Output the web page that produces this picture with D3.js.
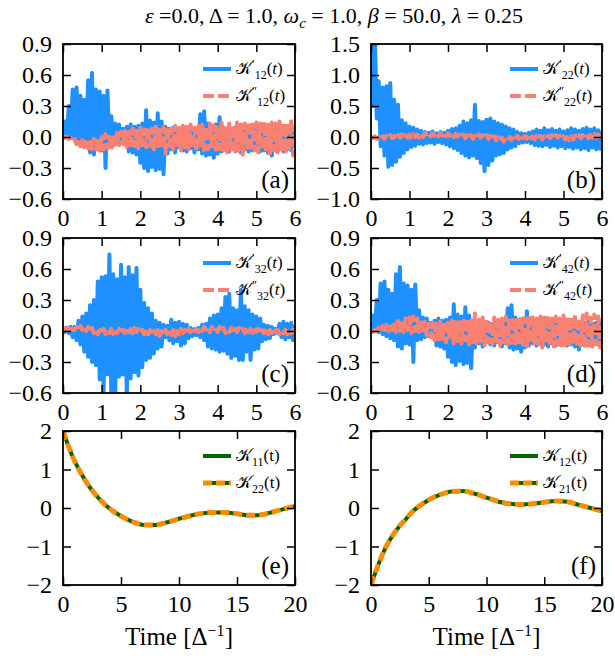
<!DOCTYPE html>
<html>
<head>
<meta charset="utf-8">
<script src="https://cdn.jsdelivr.net/npm/d3@7"></script>
<style>
  body { margin: 0; background: #fff; }
  svg text { font-family: "Liberation Serif"; fill: #000; }
</style>
</head>
<body>
<div id="chart"></div>
<script>
var k12Re = [0.02,0.15,0.01,0.30,-0.01,0.46,-0.03,0.48,-0.05,0.40,-0.07,0.36,-0.09,0.55,-0.15,0.62,-0.17,0.46,-0.12,0.44,
  -0.13,0.40,-0.30,0.45,-0.09,0.20,-0.08,0.13,-0.06,0.12,-0.05,0.08,-0.05,0.10,-0.14,0.12,-0.15,0.10,-0.17,0.11,
  -0.25,0.13,-0.30,0.26,-0.33,0.16,-0.29,0.14,-0.32,0.23,-0.31,0.15,-0.36,0.10,-0.16,0.08,-0.12,0.09,-0.15,0.07,
  -0.10,0.08,-0.13,0.07,-0.14,0.09,-0.11,0.06,-0.15,0.08,-0.12,0.22,-0.16,0.25,-0.18,0.13,-0.17,0.11,-0.20,0.12,
  -0.16,0.19,-0.14,0.09,-0.12,0.08,-0.14,0.07,-0.12,0.09,-0.13,0.06,-0.15,0.08,-0.12,0.09,-0.14,0.07,-0.13,0.08,
  -0.12,0.09,-0.14,0.10,-0.13,0.08,-0.15,0.09,-0.18,0.07,-0.13,0.08,-0.12,0.10,-0.14,0.07,-0.12,0.08,-0.13,0.09,-0.10];
var k12Im = [0.00,-0.01,0.00,-0.02,-0.01,-0.04,-0.02,-0.07,-0.02,-0.09,-0.03,-0.10,-0.02,-0.11,-0.03,-0.12,-0.02,-0.12,-0.01,-0.13,
  0.00,-0.12,0.03,-0.11,0.00,-0.12,0.02,-0.09,0.04,-0.08,0.05,-0.07,0.06,-0.10,0.05,-0.08,0.08,-0.09,0.06,-0.11,
  0.09,-0.08,0.07,-0.10,0.10,-0.09,0.08,-0.12,0.10,-0.09,0.07,-0.11,0.09,-0.16,0.10,-0.09,0.08,-0.12,0.11,-0.10,
  0.09,-0.13,0.11,-0.10,0.10,-0.12,0.12,-0.11,0.09,-0.14,0.11,-0.10,0.12,-0.13,0.10,-0.12,0.13,-0.11,0.11,-0.14,
  0.12,-0.12,0.14,-0.13,0.11,-0.15,0.13,-0.12,0.12,-0.14,0.14,-0.13,0.12,-0.17,0.13,-0.12,0.15,-0.14,0.12,-0.13,
  0.14,-0.15,0.13,-0.12,0.15,-0.14,0.12,-0.16,0.14,-0.13,0.13,-0.15,0.15,-0.12,0.14,-0.16,0.13,-0.14,0.17,-0.18,0.12];

var k22Re = [1.60,0.50,1.60,0.30,0.90,-0.15,0.80,-0.30,0.82,-0.48,0.87,-0.45,0.60,-0.40,0.52,-0.32,0.27,-0.26,0.22,-0.20,
  0.17,-0.16,0.15,-0.14,0.12,-0.11,0.10,-0.12,0.08,-0.10,0.07,-0.09,0.09,-0.11,0.06,-0.08,0.08,-0.10,0.07,-0.12,
  0.10,-0.15,0.13,-0.18,0.14,-0.21,0.18,-0.26,0.25,-0.30,0.22,-0.33,0.27,-0.30,0.52,-0.34,0.26,-0.42,0.24,-0.55,
  0.28,-0.45,0.30,-0.38,0.25,-0.30,0.22,-0.28,0.20,-0.26,0.17,-0.20,0.14,-0.17,0.12,-0.15,0.08,-0.10,0.06,-0.09,
  0.05,-0.08,0.07,-0.10,0.09,-0.13,0.12,-0.14,0.10,-0.15,0.14,-0.13,0.11,-0.16,0.13,-0.14,0.10,-0.17,0.12,-0.15,
  0.09,-0.18,0.11,-0.16,0.14,-0.19,0.12,-0.17,0.10,-0.20,0.13,-0.18,0.15,-0.21,0.12,-0.17,0.14,-0.20,0.11,-0.19,0.10];
var k22Im = [0.00,-0.02,0.01,-0.03,0.00,-0.04,0.01,-0.03,0.02,-0.02,0.03,-0.02,0.02,-0.03,0.03,-0.01,0.04,-0.02,0.03,-0.01,
  0.04,-0.01,0.05,0.00,0.04,-0.01,0.05,0.00,0.06,0.01,0.05,0.01,0.06,0.02,0.07,0.01,0.06,0.02,0.07,0.01,
  0.06,0.02,0.06,0.00,0.05,0.01,0.04,-0.01,0.04,-0.02,0.03,-0.02,0.03,-0.03,0.02,-0.02,0.04,-0.01,0.03,-0.02,
  0.03,-0.03,0.02,-0.04,0.01,-0.05,0.00,-0.06,-0.01,-0.07,-0.02,-0.06,0.00,-0.05,0.01,-0.04,0.02,-0.03,0.03,-0.02,
  0.02,-0.03,0.03,-0.02,0.01,-0.04,0.02,-0.03,0.02,-0.04,0.01,-0.03,0.02,-0.02,0.03,-0.03,0.03,-0.01,0.02,-0.03,
  0.01,-0.04,0.00,-0.05,0.01,-0.04,0.02,-0.03,0.03,-0.02,0.03,-0.01,0.04,-0.02,0.03,-0.01,0.05,-0.01,0.04,0.00,0.05];

var k32Re = [0.02,-0.01,0.03,-0.02,0.04,-0.06,0.04,-0.09,0.10,-0.13,0.14,-0.20,0.17,-0.25,0.25,-0.30,0.30,-0.33,0.48,-0.47,
  0.52,-0.58,0.53,-0.42,0.74,-0.66,0.55,-0.64,0.50,-0.44,0.64,-0.42,0.52,-0.66,0.62,-0.46,0.54,-0.40,0.61,-0.43,
  0.40,-0.35,0.27,-0.28,0.22,-0.26,0.17,-0.22,0.10,-0.17,0.08,-0.15,0.06,-0.06,0.05,-0.09,0.11,-0.12,0.08,-0.10,
  0.09,-0.14,0.07,-0.12,0.06,-0.07,0.03,-0.05,0.02,-0.04,0.03,-0.06,0.06,-0.09,0.07,-0.15,0.12,-0.17,0.15,-0.18,
  0.16,-0.20,0.22,-0.19,0.33,-0.22,0.36,-0.26,0.22,-0.24,0.20,-0.28,0.40,-0.28,0.24,-0.20,0.20,-0.28,0.16,-0.18,
  0.14,-0.17,0.12,-0.10,0.06,-0.08,0.05,-0.07,0.04,-0.03,0.02,-0.02,0.07,-0.06,0.09,-0.08,0.07,-0.06,0.08,-0.09,0.06];
var k32Im = [0.02,0.03,0.00,0.03,-0.01,0.02,0.01,0.04,0.00,0.05,0.01,0.05,0.00,0.04,-0.01,0.03,-0.02,0.02,-0.03,0.01,
  -0.02,0.02,-0.03,0.01,-0.02,0.02,-0.03,0.01,-0.02,0.02,-0.03,0.01,-0.02,0.03,-0.01,0.02,-0.02,0.03,-0.01,0.02,
  -0.02,0.01,-0.03,0.02,-0.03,0.01,-0.04,0.00,-0.03,0.01,-0.05,0.00,-0.04,0.01,-0.03,0.02,-0.04,0.01,-0.05,0.00,
  -0.03,0.02,-0.02,0.01,-0.03,0.02,-0.01,0.03,0.00,0.02,-0.01,0.03,0.00,0.04,0.01,0.03,-0.01,0.04,0.00,0.03,
  -0.01,0.04,0.00,0.03,-0.02,0.02,-0.01,0.03,-0.02,0.02,-0.01,0.03,0.00,0.02,-0.02,0.03,-0.01,0.02,-0.02,0.03,
  -0.01,0.02,-0.03,0.01,-0.02,0.02,-0.03,0.01,-0.02,0.02,-0.01,0.01,-0.03,0.00,-0.02,0.01,-0.03,0.00,-0.02,0.01,-0.02];

// K'42 looks the same as K'12 in the figure
var k42Re = k12Re.slice();
var k42Im = [0.00,-0.01,0.01,0.00,0.03,0.00,0.05,0.01,0.06,0.00,0.07,0.01,0.09,-0.01,0.10,0.00,0.11,-0.01,0.12,0.01,
  0.13,-0.02,0.14,0.00,0.12,-0.01,0.11,-0.03,0.09,-0.04,0.07,-0.06,0.08,-0.09,0.07,-0.10,0.09,-0.08,0.06,-0.11,
  0.08,-0.09,0.10,-0.12,0.09,-0.10,0.11,-0.12,0.10,-0.09,0.12,-0.13,0.10,-0.11,0.17,-0.12,0.11,-0.10,0.13,-0.14,
  0.12,-0.11,0.10,-0.13,0.13,-0.12,0.11,-0.14,0.12,-0.11,0.14,-0.13,0.12,-0.15,0.13,-0.12,0.11,-0.14,0.14,-0.13,
  0.12,-0.15,0.13,-0.12,0.15,-0.14,0.12,-0.13,0.14,-0.16,0.13,-0.12,0.15,-0.14,0.12,-0.15,0.14,-0.13,0.12,-0.16,
  0.15,-0.14,0.13,-0.15,0.14,-0.13,0.16,-0.15,0.13,-0.14,0.15,-0.17,0.17,-0.14,0.13,-0.15,0.16,-0.13,0.14,-0.16,0.12];

// bottom row, t over 0..20
var tLong = [0,0.5,1,1.5,2,2.5,3,3.5,4,5,6,7,8,9,10,11,12,13,14,15,16,17,18,19,20];
var k11 = [2.0,1.58,1.22,0.93,0.68,0.46,0.28,0.12,-0.01,-0.21,-0.36,-0.44,-0.44,-0.37,-0.28,-0.20,-0.14,-0.12,-0.12,-0.15,-0.19,-0.18,-0.11,-0.03,0.05];
var k22 = k11.slice();
var k12 = [-2.0,-1.58,-1.20,-0.90,-0.66,-0.46,-0.30,-0.12,0.01,0.21,0.35,0.43,0.44,0.37,0.27,0.17,0.11,0.09,0.11,0.15,0.18,0.16,0.08,0.00,-0.08];
var k21 = k12.slice();

var ticksShort = [0, 0.3, 0.6, 0.9, -0.3, -0.6];
var ticksB = [-1.0, -0.5, 0, 0.5, 1.0, 1.5];
var ticksLong = [-2, -1, 0, 1, 2];

// ---- layout ----
var width = 615, height = 660;
var cols = [[63, 295], [371, 602]];
var rows = [[44, 199], [238, 393], [431, 585]];
var serif = '"Liberation Serif"';

var blue = '#1e90ff', salmon = '#fa8072', green = '#006400', orange = '#ff8c00';

var panels = [
  { tag: 'a', c: 0, r: 0, ydom: [-0.6, 0.9], yt: ticksShort, fmt: '.1f', re: k12Re, im: k12Im, idx: '12' },
  { tag: 'b', c: 1, r: 0, ydom: [-1.0, 1.5], yt: ticksB, fmt: '.1f', re: k22Re, im: k22Im, idx: '22' },
  { tag: 'c', c: 0, r: 1, ydom: [-0.6, 0.9], yt: ticksShort, fmt: '.1f', re: k32Re, im: k32Im, idx: '32' },
  { tag: 'd', c: 1, r: 1, ydom: [-0.6, 0.9], yt: ticksShort, fmt: '.1f', re: k42Re, im: k42Im, idx: '42' },
  { tag: 'e', c: 0, r: 2, ydom: [-2, 2], yt: ticksLong, fmt: '.0f', s1: k11, s2: k22, n1: '11', n2: '22' },
  { tag: 'f', c: 1, r: 2, ydom: [-2, 2], yt: ticksLong, fmt: '.0f', s1: k12, s2: k21, n1: '12', n2: '21' }
];

var svg = d3.select('#chart').append('svg')
  .attr('width', width)
  .attr('height', height);

var defs = svg.append('defs');

// title
var title = svg.append('text')
  .attr('x', 334).attr('y', 23)
  .attr('text-anchor', 'middle')
  .style('font-size', '22px');
title.append('tspan').style('font-style', 'italic').text('ε');
title.append('tspan').text(' =0.0, Δ = 1.0, ');
title.append('tspan').style('font-style', 'italic').text('ω');
title.append('tspan').style('font-style', 'italic').style('font-size', '15px').attr('dy', 5).text('c');
title.append('tspan').attr('dy', -5).text(' = 1.0, ');
title.append('tspan').style('font-style', 'italic').text('β');
title.append('tspan').text(' = 50.0, ');
title.append('tspan').style('font-style', 'italic').text('λ');
title.append('tspan').text(' = 0.25');

// legend label: script K, optional primes, subscript index, then (t)
function legendLabel(g, x, y, idx, primes, italicT) {
  var t = g.append('text').attr('x', x).attr('y', y).style('font-size', '17px');
  t.append('tspan').text('𝒦');
  if (primes) {
    t.append('tspan').attr('dy', -6).style('font-size', '12px').text(primes);
    t.append('tspan').attr('dy', 11).style('font-size', '12px').text(idx);
  } else {
    t.append('tspan').attr('dy', 5).style('font-size', '12px').text(idx);
  }
  t.append('tspan').attr('dy', -5).text('(');
  t.append('tspan').style('font-style', italicT ? 'italic' : 'normal').text('t');
  t.append('tspan').text(')');
}

panels.forEach(function(p, k) {
  var x0 = cols[p.c][0], x1 = cols[p.c][1];
  var y0 = rows[p.r][0], y1 = rows[p.r][1];
  var longT = p.r === 2;

  var x = d3.scaleLinear().domain(longT ? [0, 20] : [0, 6]).range([x0, x1]);
  var y = d3.scaleLinear().domain(p.ydom).range([y1, y0]);
  var xt = longT ? [0, 5, 10, 15, 20] : [0, 1, 2, 3, 4, 5, 6];

  defs.append('clipPath').attr('id', 'clip' + k)
    .append('rect').attr('x', x0).attr('y', y0).attr('width', x1 - x0).attr('height', y1 - y0);

  var g = svg.append('g');
  var plot = g.append('g').attr('clip-path', 'url(#clip' + k + ')');

  if (!longT) {
    plot.append('line')
      .attr('x1', x0).attr('x2', x1)
      .attr('y1', y(0)).attr('y2', y(0))
      .attr('stroke', '#000').attr('stroke-width', 2);

    var step = 6 / (p.re.length - 1);
    var stepIm = 6 / (p.im.length - 1);
    var lineRe = d3.line().x(function(d, i) { return x(i * step); }).y(function(d) { return y(d); });
    var lineIm = d3.line().x(function(d, i) { return x(i * stepIm); }).y(function(d) { return y(d); });

    plot.append('path').datum(p.re)
      .attr('d', lineRe)
      .attr('fill', 'none').attr('stroke', blue).attr('stroke-width', 4)
      .attr('stroke-linejoin', 'round');
    plot.append('path').datum(p.im)
      .attr('d', lineIm)
      .attr('fill', 'none').attr('stroke', salmon).attr('stroke-width', 4)
      .attr('stroke-dasharray', '11,4')
      .attr('stroke-linejoin', 'round');
  } else {
    var line = d3.line()
      .x(function(d, i) { return x(tLong[i]); })
      .y(function(d) { return y(d); })
      .curve(d3.curveMonotoneX);
    plot.append('path').datum(p.s1)
      .attr('d', line)
      .attr('fill', 'none').attr('stroke', green).attr('stroke-width', 4);
    plot.append('path').datum(p.s2)
      .attr('d', line)
      .attr('fill', 'none').attr('stroke', orange).attr('stroke-width', 5)
      .attr('stroke-dasharray', '9,4');
  }

  // axes, ticks pointing inward on all four sides
  var fmt = d3.format(p.fmt);
  g.append('g').attr('transform', 'translate(0,' + y1 + ')')
    .call(d3.axisBottom(x).tickValues(xt).tickFormat(d3.format('d'))
      .tickSizeInner(-8).tickSizeOuter(0).tickPadding(10));
  g.append('g').attr('transform', 'translate(0,' + y0 + ')')
    .call(d3.axisTop(x).tickValues(xt).tickFormat('').tickSizeInner(-8).tickSizeOuter(0));
  g.append('g').attr('transform', 'translate(' + x0 + ',0)')
    .call(d3.axisLeft(y).tickValues(p.yt).tickFormat(fmt)
      .tickSizeInner(-8).tickSizeOuter(0).tickPadding(11));
  g.append('g').attr('transform', 'translate(' + x1 + ',0)')
    .call(d3.axisRight(y).tickValues(p.yt).tickFormat('').tickSizeInner(-8).tickSizeOuter(0));

  g.selectAll('.domain').remove();
  g.selectAll('.tick line').attr('stroke', '#000').attr('stroke-width', 1.5);
  g.selectAll('.tick text')
    .style('font-family', serif)
    .style('font-size', '24px').attr('fill', '#000');

  g.append('rect')
    .attr('x', x0).attr('y', y0)
    .attr('width', x1 - x0).attr('height', y1 - y0)
    .attr('fill', 'none').attr('stroke', '#000').attr('stroke-width', 1.8);

  // legend, upper right without frame
  var lx0 = x1 - 92, lx1 = x1 - 64, ly1 = y0 + 25, ly2 = y0 + 52;
  var c1 = longT ? green : blue, c2 = longT ? orange : salmon;
  g.append('line').attr('x1', lx0).attr('x2', lx1).attr('y1', ly1).attr('y2', ly1)
    .attr('stroke', c1).attr('stroke-width', 4);
  if (longT) {
    g.append('line').attr('x1', lx0).attr('x2', lx1).attr('y1', ly2).attr('y2', ly2)
      .attr('stroke', green).attr('stroke-width', 4);
  }
  g.append('line').attr('x1', lx0).attr('x2', lx1).attr('y1', ly2).attr('y2', ly2)
    .attr('stroke', c2).attr('stroke-width', longT ? 5 : 4)
    .attr('stroke-dasharray', longT ? '9,4' : '11,4');

  if (longT) {
    legendLabel(g, lx1 + 5, ly1 + 5, p.n1, '', false);
    legendLabel(g, lx1 + 5, ly2 + 5, p.n2, '', false);
  } else {
    legendLabel(g, lx1 + 5, ly1 + 5, p.idx, '′', true);
    legendLabel(g, lx1 + 5, ly2 + 5, p.idx, '″', true);
  }

  // panel tag
  g.append('text')
    .attr('x', x1 - 6).attr('y', y1 - 11)
    .attr('text-anchor', 'end')
    .style('font-size', '25px')
    .text('(' + p.tag + ')');

  if (longT) {
    var xl = g.append('text')
      .attr('x', (x0 + x1) / 2).attr('y', 645)
      .attr('text-anchor', 'middle')
      .style('font-size', '25px');
    xl.append('tspan').text('Time [Δ');
    xl.append('tspan').attr('dy', -9).style('font-size', '16px').text('−1');
    xl.append('tspan').attr('dy', 9).text(']');
  }
});
</script>
</body>
</html>
